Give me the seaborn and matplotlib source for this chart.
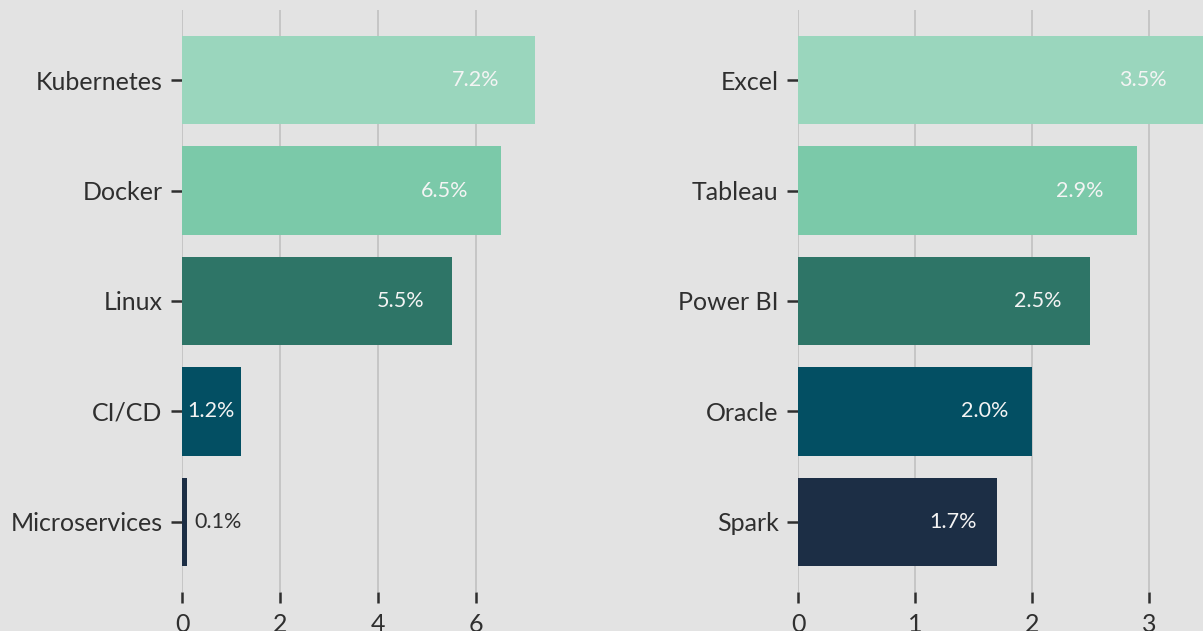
import matplotlib
matplotlib.use("Agg")
import matplotlib.pyplot as plt
import seaborn as sns
import pandas as pd

left_categories = ["Kubernetes", "Docker", "Linux", "CI/CD", "Microservices"]
left_values = [7.2, 6.5, 5.5, 1.2, 0.1]
right_categories = ["Excel", "Tableau", "Power BI", "Oracle", "Spark"]
right_values = [3.5, 2.9, 2.5, 2.0, 1.7]
left_ticks = [0, 2, 4, 6]
right_ticks = [0, 1, 2, 3]

palette = ["#9ad6bd", "#7bc9a9", "#2e7567", "#034f63", "#1c2e45"]
bg = "#e3e3e3"
text_dark = "#2f2f2f"

sns.set_theme(style="whitegrid")
plt.rcParams["font.family"] = ["Lato", "DejaVu Sans"]

W, H = 1203, 631
fig = plt.figure(figsize=(W / 100, H / 100), dpi=100)
fig.patch.set_facecolor(bg)

def px_axes(x0, x1, y_top, y_bot):
    return fig.add_axes([x0 / W, 1 - y_bot / H, (x1 - x0) / W, (y_bot - y_top) / H])

ax1 = px_axes(182, 182 + 49 * 7.56, 10, 592)
ax2 = px_axes(798, 798 + 117 * 3.675, 10, 592)

def draw(ax, cats, vals, ticks, xmax):
    df = pd.DataFrame({"cat": cats, "val": vals})
    sns.barplot(data=df, y="cat", x="val", hue="cat", palette=palette,
                legend=False, ax=ax, width=0.8, saturation=1, orient="h",
                linewidth=0, edgecolor="none")
    ax.set_facecolor(bg)
    ax.set_xlim(0, xmax)
    ax.set_ylim(len(cats) - 0.5 + 0.135, -0.5 - 0.135)
    ax.set_xticks(ticks)
    ax.set_xlabel("")
    ax.set_ylabel("")
    for s in ax.spines.values():
        s.set_visible(False)
    ax.grid(axis="x", color="#c6c6c6", linewidth=1.4)
    ax.grid(axis="y", visible=False)
    ax.set_axisbelow(True)
    ax.tick_params(axis="both", which="both", length=8, width=1.8, color=text_dark,
                   labelcolor=text_dark, labelsize=18, pad=6)
    ax.tick_params(axis="x", bottom=True, pad=7)
    ax.tick_params(axis="y", left=True)
    vmax = max(vals)
    for i, v in enumerate(vals):
        if v < 0.1 * vmax:
            ax.text(v + 0.15, i, f"{v:.1f}%", ha="left", va="center",
                    fontsize=15.5, color=text_dark)
        else:
            ax.text(v * 0.9, i, f"{v:.1f}%", ha="right", va="center",
                    fontsize=15.5, color="#f4f4f4")

draw(ax1, left_categories, left_values, left_ticks, 7.56)
draw(ax2, right_categories, right_values, right_ticks, 3.675)

fig.savefig("out.png", dpi=100, facecolor=bg)
